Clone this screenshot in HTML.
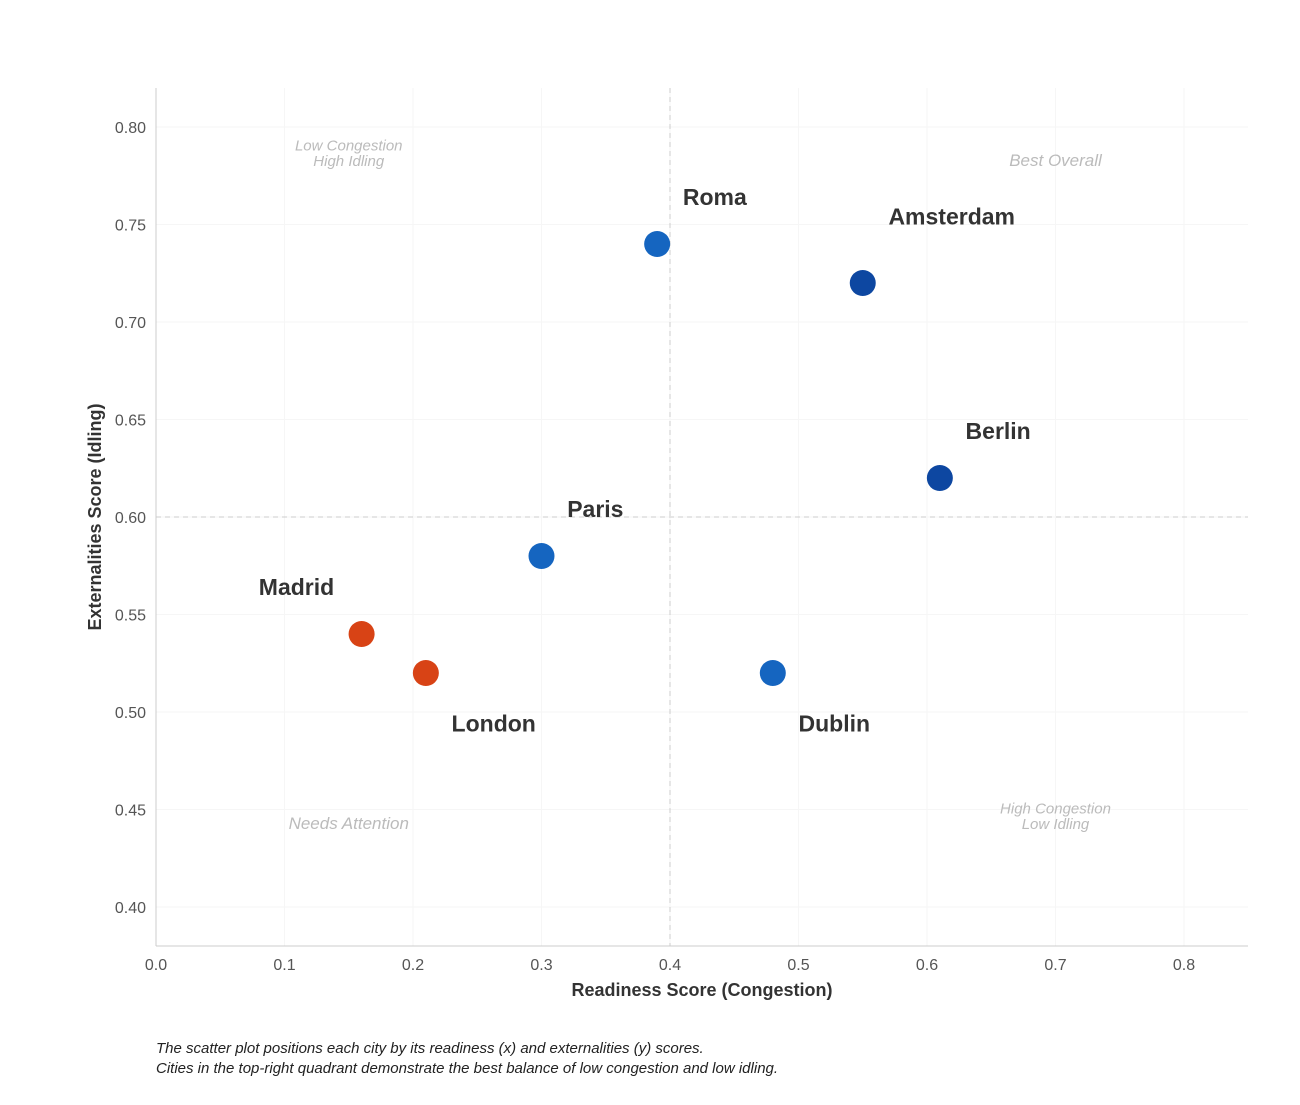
<!DOCTYPE html>
<html><head><meta charset="utf-8"><style>
body{margin:0;background:#fff;font-family:"Liberation Sans",sans-serif;}
svg text{font-family:"Liberation Sans",sans-serif;}
</style></head><body>
<svg id="chart" width="1300" height="1100" xmlns="http://www.w3.org/2000/svg">
<g id="grid"></g>
<g id="axes"></g>
<g id="marks"></g>
<text x="702" y="996" text-anchor="middle" font-size="18" font-weight="bold" fill="#333">Readiness Score (Congestion)</text>
<text transform="translate(101,517) rotate(-90)" text-anchor="middle" font-size="18" font-weight="bold" fill="#333">Externalities Score (Idling)</text>
<text x="156" y="1053" font-size="15" font-style="italic" fill="#222">The scatter plot positions each city by its readiness (x) and externalities (y) scores.</text>
<text x="156" y="1073" font-size="15" font-style="italic" fill="#222">Cities in the top-right quadrant demonstrate the best balance of low congestion and low idling.</text>
</svg>
<script>
const cities=["Roma","Amsterdam","Berlin","Paris","Madrid","London","Dublin"];
const readiness=[0.39,0.55,0.61,0.30,0.16,0.21,0.48];
const externalities=[0.74,0.72,0.62,0.58,0.54,0.52,0.52];
const labelDx=[0.02,0.02,0.02,0.02,-0.08,0.02,0.02];
const labelDy=[0.02,0.03,0.02,0.02,0.02,-0.03,-0.03];
const colors=["#1565c0","#0d47a1","#0d47a1","#1565c0","#d84315","#d84315","#1565c0"];
const xTicks=[0,0.1,0.2,0.3,0.4,0.5,0.6,0.7,0.8];
const yTicks=[0.40,0.45,0.50,0.55,0.60,0.65,0.70,0.75,0.80];
const xThreshold=0.4, yThreshold=0.6;
const X0=156,XPX=1285,YTOP=127,Y80=0.80,YPX=1950;
const sx=v=>X0+v*XPX;
const sy=v=>YTOP+(Y80-v)*YPX;
const NS="http://www.w3.org/2000/svg";
function mk(tag,attrs,parent){const e=document.createElementNS(NS,tag);for(const k in attrs)e.setAttribute(k,attrs[k]);parent.appendChild(e);return e;}
const grid=document.getElementById('grid'),axes=document.getElementById('axes'),marks=document.getElementById('marks');
const L=156,R=1248,T=88,B=946;
xTicks.forEach(t=>{const l=mk('line',{x1:sx(t),x2:sx(t),y1:T,y2:B,stroke:'#f6f6f6'},grid);


const tx=mk('text',{x:sx(t),y:970,'text-anchor':'middle','font-size':16,fill:'#555'},axes);tx.textContent=t.toFixed(1);

});
yTicks.forEach(t=>{const l=mk('line',{x1:L,x2:R,y1:sy(t),y2:sy(t),stroke:'#f6f6f6'},grid);


const tx=mk('text',{x:146,y:sy(t)+6,'text-anchor':'end','font-size':16,fill:'#555'},axes);tx.textContent=t.toFixed(2);

});
let a=mk('line',{x1:L,x2:L,y1:T,y2:B,stroke:'#ccc'},axes);


a=mk('line',{x1:L,x2:R,y1:B,y2:B,stroke:'#ccc'},axes);


a=mk('line',{x1:sx(xThreshold),x2:sx(xThreshold),y1:T,y2:B,stroke:'#ccc','stroke-dasharray':'5,4'},axes);


a=mk('line',{x1:L,x2:R,y1:sy(yThreshold),y2:sy(yThreshold),stroke:'#ccc','stroke-dasharray':'5,4'},axes);


const quad=[["Low Congestion",0.15,0.788],["High Idling",0.15,0.780],["Best Overall",0.7,0.78],["Needs Attention",0.15,0.44],["High Congestion",0.7,0.448],["Low Idling",0.7,0.44]];
quad.forEach(q=>{const sz=(q[0]=="Best Overall"||q[0]=="Needs Attention")?17:15;
const t=mk('text',{x:sx(q[1]),y:sy(q[2]),'text-anchor':'middle','font-size':sz,'font-style':'italic',fill:'#bbb'},axes);t.textContent=q[0];

});
cities.forEach((c,i)=>{const p=mk('circle',{cx:sx(readiness[i]),cy:sy(externalities[i]),r:13,fill:colors[i]},marks);


const t=mk('text',{x:sx(readiness[i]+labelDx[i]),y:sy(externalities[i]+labelDy[i]),'font-size':23,'font-weight':'bold',fill:'#333'},marks);t.textContent=c;

});
</script>
</body></html>
